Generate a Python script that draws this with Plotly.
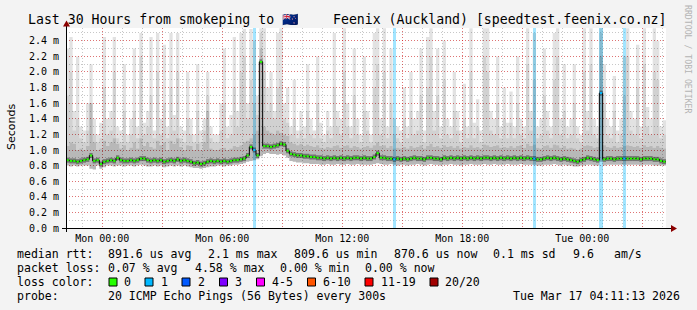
import plotly.graph_objects as go
from datetime import datetime, timedelta

# ---------------- data (10-minute steps, values in ms) ----------------
median_ms = [
    0.87,0.86,0.86,0.85,0.86,0.87,0.88,0.93,0.86,0.87,
    0.82,0.85,0.86,0.87,0.86,0.90,0.87,0.86,0.86,0.87,
    0.86,0.87,0.89,0.89,0.87,0.86,0.87,0.86,0.87,0.85,
    0.86,0.87,0.86,0.88,0.86,0.87,0.86,0.85,0.83,0.84,
    0.82,0.83,0.85,0.86,0.85,0.86,0.85,0.86,0.85,0.86,
    0.87,0.87,0.88,0.89,0.93,1.04,1.00,0.93,2.13,1.05,
    1.05,1.04,1.05,1.06,1.08,1.07,0.99,0.95,0.94,0.93,
    0.93,0.92,0.92,0.91,0.91,0.90,0.90,0.89,0.90,0.89,
    0.90,0.89,0.90,0.89,0.90,0.89,0.90,0.90,0.89,0.90,
    0.89,0.89,0.91,0.96,0.90,0.90,0.89,0.89,0.88,0.89,
    0.88,0.89,0.88,0.89,0.90,0.89,0.89,0.88,0.90,0.90,
    0.89,0.89,0.88,0.90,0.89,0.90,0.89,0.90,0.89,0.90,
    0.89,0.90,0.89,0.90,0.89,0.90,0.90,0.89,0.90,0.89,
    0.90,0.89,0.90,0.89,0.90,0.89,0.90,0.89,0.90,0.89,
    0.89,0.88,0.88,0.89,0.90,0.89,0.90,0.89,0.88,0.89,
    0.88,0.87,0.86,0.85,0.87,0.88,0.90,0.89,0.88,0.87,
    1.73,0.88,0.89,0.89,0.88,0.89,0.89,0.89,0.89,0.89,
    0.89,0.89,0.88,0.89,0.89,0.89,0.88,0.88,0.86,0.85,
]
min_ms = [
    0.80,0.79,0.80,0.79,0.80,0.80,0.80,0.76,0.75,0.80,
    0.76,0.78,0.80,0.80,0.79,0.80,0.80,0.79,0.80,0.80,
    0.79,0.80,0.81,0.80,0.79,0.79,0.80,0.79,0.80,0.78,
    0.79,0.80,0.79,0.80,0.79,0.80,0.79,0.78,0.77,0.77,
    0.76,0.77,0.78,0.79,0.79,0.80,0.80,0.79,0.80,0.80,
    0.81,0.81,0.82,0.83,0.85,0.86,0.87,0.88,0.92,0.95,
    0.96,0.95,0.95,0.94,0.95,0.93,0.90,0.86,0.85,0.84,
    0.84,0.83,0.83,0.82,0.82,0.82,0.81,0.81,0.82,0.81,
    0.81,0.82,0.81,0.81,0.82,0.81,0.81,0.82,0.81,0.81,
    0.81,0.81,0.82,0.83,0.82,0.81,0.81,0.82,0.81,0.80,
    0.81,0.81,0.80,0.81,0.81,0.82,0.81,0.80,0.81,0.82,
    0.81,0.81,0.80,0.81,0.81,0.82,0.81,0.81,0.80,0.81,
    0.81,0.82,0.81,0.81,0.81,0.82,0.81,0.81,0.82,0.81,
    0.81,0.81,0.82,0.81,0.81,0.81,0.82,0.81,0.81,0.81,
    0.81,0.80,0.80,0.81,0.81,0.81,0.82,0.81,0.80,0.81,
    0.80,0.80,0.79,0.79,0.80,0.80,0.81,0.81,0.80,0.80,
    0.85,0.80,0.81,0.81,0.81,0.81,0.81,0.81,0.81,0.81,
    0.81,0.81,0.80,0.81,0.81,0.81,0.80,0.80,0.80,0.80,
]
p80_ms = [
    1.05,1.10,1.08,1.00,1.02,1.00,1.05,1.60,1.10,1.00,
    1.02,1.12,1.05,1.10,1.15,1.08,1.02,1.06,1.00,1.03,
    1.10,1.02,1.15,1.05,1.10,1.04,1.02,1.12,1.06,1.10,
    1.00,1.12,1.08,1.15,1.04,1.00,1.06,1.05,1.00,1.08,
    1.00,1.10,1.50,1.02,1.00,1.00,1.02,1.03,1.00,1.02,
    1.05,1.04,1.06,1.10,1.12,1.15,1.20,1.25,2.30,1.30,
    1.25,1.22,1.20,1.25,1.22,1.20,1.18,1.10,1.08,1.06,
    1.08,1.05,1.07,1.05,1.04,1.06,1.03,1.02,1.04,1.03,
    1.05,1.06,1.03,1.05,1.06,1.03,1.05,1.04,1.02,1.04,
    1.05,1.03,1.06,1.10,1.05,1.06,1.03,1.05,1.02,1.03,
    1.02,1.04,1.02,1.05,1.03,1.04,1.06,1.02,1.05,1.08,
    1.04,1.05,1.03,1.06,1.04,1.05,1.03,1.05,1.02,1.04,
    1.03,1.06,1.03,1.04,1.02,1.07,1.06,1.04,1.05,1.06,
    1.03,1.04,1.03,1.05,1.03,1.05,1.06,1.03,1.08,1.05,
    1.07,1.03,1.02,1.05,1.06,1.03,1.07,1.06,1.03,1.05,
    1.02,1.03,1.02,1.00,1.02,1.05,1.06,1.05,1.03,1.04,
    2.20,1.06,1.04,1.03,1.05,1.03,1.04,1.05,1.06,1.05,
    1.04,1.05,1.03,1.06,1.04,1.05,1.03,1.05,1.03,1.02,
]
p95_ms = [
    1.70,2.00,1.25,1.40,1.15,1.10,1.25,1.60,1.20,1.10,
    1.15,1.80,1.20,1.25,2.00,1.15,1.10,1.50,1.10,1.20,
    1.50,1.15,2.20,1.20,1.30,1.70,1.15,2.00,1.20,1.60,
    1.15,1.80,1.25,2.00,1.15,1.10,1.40,1.20,1.10,1.50,
    1.10,1.25,1.70,1.15,1.10,1.10,1.25,1.60,1.15,1.20,
    1.80,1.30,2.00,2.20,1.40,1.90,1.60,1.45,2.50,2.00,
    1.50,1.60,1.40,1.80,1.90,1.40,1.35,1.20,1.40,1.15,
    1.25,1.15,1.50,1.20,1.15,1.60,1.15,1.10,1.25,1.15,
    1.80,1.30,1.20,2.00,1.30,1.15,1.70,1.20,1.10,1.50,
    1.25,1.10,1.80,2.10,1.20,2.00,1.15,1.60,1.20,1.15,
    1.10,1.40,1.15,1.50,1.20,1.25,1.70,1.10,1.80,2.20,
    1.25,1.70,1.15,1.90,1.20,1.15,1.50,1.25,1.10,1.40,
    1.15,2.00,1.15,1.30,1.10,2.20,2.00,1.25,1.20,1.60,
    1.15,1.40,1.15,1.35,1.15,1.60,1.20,1.15,2.10,1.25,
    1.90,1.15,1.20,1.70,1.25,1.15,1.90,2.20,1.20,1.50,
    1.15,1.20,1.60,1.15,1.10,2.00,1.25,2.10,1.20,1.15,
    2.50,1.60,1.20,1.15,1.50,1.10,1.20,1.70,2.20,1.25,
    1.20,1.80,1.15,2.10,1.30,1.20,2.00,1.90,1.15,1.20,
]
max_ms = [
    2.30,2.45,1.50,2.20,1.30,1.25,1.60,2.10,1.40,1.20,
    1.35,2.45,1.40,1.50,2.45,1.30,1.25,2.10,1.20,1.40,
    2.30,1.30,2.50,1.35,1.50,2.45,1.25,2.50,1.40,2.35,
    1.30,2.50,1.45,2.50,1.30,1.25,2.00,1.40,1.20,2.10,
    1.25,1.40,2.00,1.30,1.20,1.20,1.60,2.30,1.30,1.45,
    2.45,1.50,2.50,2.55,1.60,2.55,2.40,1.70,2.56,2.56,
    1.80,2.00,1.50,2.50,2.56,1.60,1.80,1.30,1.90,1.25,
    1.50,1.30,2.10,1.40,1.25,2.20,1.35,1.20,1.50,1.30,
    2.50,1.50,1.40,2.56,1.60,1.30,2.30,1.40,1.20,2.20,
    1.50,1.20,2.50,2.56,1.40,2.56,1.30,2.30,1.40,1.30,
    1.25,1.80,1.30,2.00,1.40,1.50,2.30,1.25,2.45,2.56,
    1.50,2.30,1.30,2.40,1.40,1.30,2.00,1.50,1.25,1.85,
    1.30,2.56,1.35,1.65,1.25,2.56,2.56,1.50,1.40,2.20,
    1.30,1.80,1.35,1.75,1.30,2.20,1.40,1.30,2.56,1.50,
    2.50,1.30,1.40,2.30,1.50,1.30,2.50,2.56,1.40,2.10,
    1.30,1.40,2.10,1.30,1.20,2.56,1.50,2.56,1.40,1.30,
    2.56,2.10,1.40,1.30,1.95,1.25,1.40,2.20,2.56,1.50,
    1.40,2.35,1.30,2.56,1.55,1.40,2.56,2.40,1.30,1.38,
]
# steps (index of 10-min sample) with packet loss, and pings lost out of 20
loss_steps = [56, 98, 140, 160, 167]
loss_counts = [1, 1, 1, 1, 1]

x_tick_labels = ["Mon 00:00", "", "Mon 06:00", "", "Mon 12:00", "",
                 "Mon 18:00", "", "Tue 00:00", ""]
y_tick_values = [0.0, 0.2, 0.4, 0.6, 0.8, 1.0, 1.2, 1.4, 1.6, 1.8, 2.0, 2.2, 2.4]
y_tick_labels = ["%.1f m" % v for v in y_tick_values]

loss_legend_labels = ["0", "1", "2", "3", "4-5", "6-10", "11-19", "20/20"]
loss_legend_colors = ["#26ff00", "#00b8ff", "#0059ff", "#7e00ff",
                      "#ff00ff", "#ff5500", "#ff0000", "#a10000"]

stats_rtt = ["median rtt:", "891.6 us avg", "2.1 ms max", "809.6 us min",
             "870.6 us now", "0.1 ms sd", "9.6", "am/s"]
stats_loss = ["packet loss:", "0.07 % avg", "4.58 % max", "0.00 % min", "0.00 % now"]
probe_text = ["probe:", "20 ICMP Echo Pings (56 Bytes) every 300s", "Tue Mar 17 04:11:13 2026"]

# ---------------- geometry helpers ----------------
W, H = 697, 310
L, R, T, B = 66, 666, 28, 228   # plot area in pixels
Y_TOP = 2.564


def px(x):
    return (x - L) / (R - L)


def py(y):
    return (B - y) / (B - T)


MONO = "DejaVu Sans Mono"

start = datetime(2026, 3, 15, 22, 11, 13)
step = timedelta(minutes=10)
n = len(median_ms)
times = [start + k * step for k in range(n + 1)]
end = times[-1]


def ext(a):
    return list(a) + [a[-1]]


def loss_color(c):
    if c == 0:
        return loss_legend_colors[0]
    if c == 1:
        return loss_legend_colors[1]
    if c == 2:
        return loss_legend_colors[2]
    if c == 3:
        return loss_legend_colors[3]
    if c <= 5:
        return loss_legend_colors[4]
    if c <= 10:
        return loss_legend_colors[5]
    if c <= 19:
        return loss_legend_colors[6]
    return loss_legend_colors[7]


loss_by_step = dict(zip(loss_steps, loss_counts))

fig = go.Figure()

# loss bars (full height)
fig.add_trace(go.Bar(
    x=[start + (k + 0.5) * step for k in loss_steps],
    y=[Y_TOP] * len(loss_steps),
    width=step.total_seconds() * 1000,
    marker=dict(color=[loss_color(c) for c in loss_counts], line=dict(width=0)),
    opacity=0.36, hoverinfo="skip", showlegend=False))

# smoke
fig.add_trace(go.Scatter(x=times, y=ext(min_ms), mode="lines", line=dict(width=0, shape="hv"),
                         hoverinfo="skip", showlegend=False))
for arr, col in [(p80_ms, "rgba(0,0,0,0.28)"), (p95_ms, "rgba(0,0,0,0.18)"),
                 (max_ms, "rgba(0,0,0,0.115)")]:
    fig.add_trace(go.Scatter(x=times, y=ext(arr), mode="lines", fill="tonexty",
                             fillcolor=col, line=dict(width=0, shape="hv"),
                             hoverinfo="skip", showlegend=False))

# horizontal median pieces
core_x, core_y = [], []
for k, m in enumerate(median_ms):
    core_x += [times[k], times[k + 1], None]
    core_y += [m, m, None]
# dark core around the median (horizontal only)
fig.add_trace(go.Scatter(x=core_x, y=core_y, mode="lines",
                         line=dict(width=5, color="rgba(0,0,0,0.38)"),
                         hoverinfo="skip", showlegend=False))
# median line
fig.add_trace(go.Scatter(x=times, y=ext(median_ms), mode="lines",
                         line=dict(width=1, shape="hv", color="#000000"),
                         hoverinfo="skip", showlegend=False))
# loss-coloured median dashes
groups = {}
for k, m in enumerate(median_ms):
    col = loss_color(loss_by_step.get(k, 0))
    gx, gy = groups.setdefault(col, ([], []))
    gx += [times[k] + 0.15 * step, times[k] + 0.85 * step, None]
    gy += [m, m, None]
for col, (gx, gy) in groups.items():
    fig.add_trace(go.Scatter(x=gx, y=gy, mode="lines", line=dict(width=2, color=col),
                             hoverinfo="skip", showlegend=False))

RED_GRID = "rgba(255,0,0,0.42)"
GRAY_GRID = "rgba(0,0,0,0.22)"
DOT = "1px,2px"

fig.update_layout(
    width=W, height=H,
    margin=dict(l=L, r=W - R, t=T, b=H - B, pad=0),
    paper_bgcolor="#f3f3f3", plot_bgcolor="#ffffff",
    showlegend=False, bargap=0,
    xaxis=dict(
        type="date", range=[start, end], fixedrange=True,
        tickmode="array",
        tickvals=[datetime(2026, 3, 16, 0) + timedelta(hours=3 * k) for k in range(len(x_tick_labels))],
        ticktext=x_tick_labels,
        showgrid=True, gridcolor=RED_GRID, gridwidth=1, griddash=DOT,
        minor=dict(tickmode="linear", tick0=datetime(2026, 3, 16, 0), dtick=3600000,
                   showgrid=True, gridcolor=GRAY_GRID, griddash=DOT, gridwidth=1),
        ticks="", showline=False, zeroline=False,
        tickfont=dict(family=MONO, size=10, color="#000000"),
        ticklabelstandoff=3,
    ),
    yaxis=dict(
        range=[0, Y_TOP], fixedrange=True,
        tickmode="array", tickvals=y_tick_values, ticktext=y_tick_labels,
        showgrid=True, gridcolor=RED_GRID, gridwidth=1, griddash=DOT,
        minor=dict(tickmode="linear", tick0=0, dtick=0.1,
                   showgrid=True, gridcolor=GRAY_GRID, griddash=DOT, gridwidth=1),
        ticks="outside", ticklen=4, tickcolor="rgba(0,0,0,0)",
        showline=False, zeroline=False,
        tickfont=dict(family=MONO, size=10, color="#000000"),
    ),
)

shapes = []
# axes with arrows
shapes.append(dict(type="line", xref="paper", yref="paper", x0=px(62), x1=px(672),
                   y0=py(228.5), y1=py(228.5), line=dict(color="#000000", width=1)))
shapes.append(dict(type="line", xref="paper", yref="paper", x0=px(66.5), x1=px(66.5),
                   y0=py(232), y1=py(25), line=dict(color="#000000", width=1)))
shapes.append(dict(type="path", xref="paper", yref="paper",
                   path="M %f %f L %f %f L %f %f Z" % (px(671), py(225), px(677), py(228.5), px(671), py(232)),
                   fillcolor="#8b0000", line=dict(width=0)))
shapes.append(dict(type="path", xref="paper", yref="paper",
                   path="M %f %f L %f %f L %f %f Z" % (px(63), py(26.5), px(66.5), py(20.5), px(70), py(26.5)),
                   fillcolor="#8b0000", line=dict(width=0)))
# loss colour legend boxes
box_left = [109, 145, 182, 219.5, 256.5, 307.5, 365, 430]
for bx, col in zip(box_left, loss_legend_colors):
    shapes.append(dict(type="rect", xref="paper", yref="paper",
                       x0=px(bx), x1=px(bx + 8), y0=py(286), y1=py(278),
                       fillcolor=col, line=dict(color="#000000", width=1)))
fig.update_layout(shapes=shapes)

ann = []


def text(x, y, s, size=11.55, anchor="left", family=MONO, color="#000000", angle=0, yanchor="middle"):
    ann.append(dict(x=px(x), y=py(y), xref="paper", yref="paper", text=s, showarrow=False,
                    xanchor=anchor, yanchor=yanchor, textangle=angle, borderpad=0,
                    font=dict(family=family, size=size, color=color)))


# title
text(27, 19.5, "Last 30 Hours from smokeping to 🇳🇿", size=13.2)
text(331.5, 19.5, "Feenix (Auckland) [speedtest.feenix.co.nz]", size=13.2)
# y axis title
text(11.5, 127.5, "Seconds", size=11, family="DejaVu Sans", anchor="center", angle=-90)
# vertical credit
text(688, 59, "RRDTOOL / TOBI OETIKER", size=8.2, anchor="center", color="#b4b4b4", angle=90)

# statistics rows
for xx, s in zip([15.5, 107, 206.5, 292.5, 392.5, 491.5, 571.5, 612.5], stats_rtt):
    text(xx, 254, s)
for xx, s in zip([15.5, 107, 193.5, 278.5, 364], stats_loss):
    text(xx, 268, s)
text(15.5, 282, "loss color:")
for xx, s in zip([123, 159.5, 196.5, 233.5, 270.5, 321.5, 379.5, 443.5], loss_legend_labels):
    text(xx, 282, s)
text(15.5, 296, probe_text[0])
text(107, 296, probe_text[1])
text(681, 296, probe_text[2], anchor="right")
fig.update_layout(annotations=ann)

fig.write_html("out.html")
